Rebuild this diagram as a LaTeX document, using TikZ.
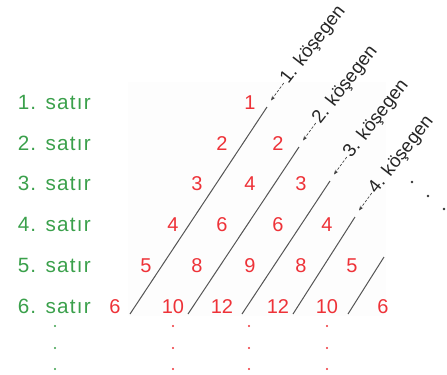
\documentclass[tikz,border=0pt]{standalone}
\usepackage{fontspec}
\setmainfont{Liberation Sans}
\newfontfamily\rowfont[LetterSpace=6]{Liberation Sans}
\usetikzlibrary{arrows.meta}
\definecolor{numred}{RGB}{238,50,56}
\definecolor{rowgreen}{RGB}{58,160,75}
\definecolor{linegray}{RGB}{85,85,85}
\tikzset{
  num/.style={text=numred, font=\fontsize{15}{18}\selectfont, anchor=base, inner sep=0pt},
  rowlab/.style={text=rowgreen, font=\rowfont\fontsize{15.5}{18}\selectfont, anchor=base west, inner sep=0pt},
  diag/.style={draw=linegray, line width=0.75pt},
  diaglab/.style={text=black!85, font=\fontsize{14}{16}\selectfont, rotate=52, anchor=west, inner sep=0pt},
  pointer/.style={draw=black!75, line width=0.5pt, dash pattern=on 2pt off 1.2pt, shorten <=1pt, -{Stealth[length=3.5pt,width=2.8pt]}},
  gdot/.style={circle, fill=rowgreen, inner sep=0pt, minimum size=1.8pt},
  rdot/.style={circle, fill=numred, inner sep=0pt, minimum size=1.8pt},
  kdot/.style={circle, fill=black!80, inner sep=0pt, minimum size=2pt}
}
\begin{document}
\begin{tikzpicture}[x=0.75pt,y=-0.75pt]
\useasboundingbox (0,0) rectangle (447,375);
\fill[black!0.8] (128,82) rectangle (386,316);
% row labels
\node[rowlab] (s1) at (17.5,109.3) {1. satır};
\node[rowlab] (s2) at (17.5,150.1) {2. satır};
\node[rowlab] (s3) at (17.5,190.9) {3. satır};
\node[rowlab] (s4) at (17.5,231.7) {4. satır};
\node[rowlab] (s5) at (17.5,272.5) {5. satır};
\node[rowlab] (s6) at (17.5,313.3) {6. satır};
% numbers
\node[num] (n10) at (250,109.3) {1};
\node[num] (n21) at (222,150.1) {2};
\node[num] (n22) at (278,150.1) {2};
\node[num] (n31) at (197,190.9) {3};
\node[num] (n32) at (250,190.9) {4};
\node[num] (n33) at (301,190.9) {3};
\node[num] (n41) at (173,231.7) {4};
\node[num] (n42) at (222,231.7) {6};
\node[num] (n43) at (278,231.7) {6};
\node[num] (n44) at (327,231.7) {4};
\node[num] (n51) at (146,272.5) {5};
\node[num] (n52) at (197,272.5) {8};
\node[num] (n53) at (250,272.5) {9};
\node[num] (n54) at (301,272.5) {8};
\node[num] (n55) at (352,272.5) {5};
\node[num] (n61) at (115,313.3) {6};
\node[num] (n62) at (173,313.3) {10};
\node[num] (n63) at (222,313.3) {12};
\node[num] (n64) at (278,313.3) {12};
\node[num] (n65) at (327,313.3) {10};
\node[num] (n66) at (383,313.3) {6};
% diagonals
\coordinate (b1) at (130,314); \coordinate (e1) at (267,107);
\coordinate (b2) at (188,314); \coordinate (e2) at (299,147);
\coordinate (b3) at (242,314); \coordinate (e3) at (330,181);
\coordinate (b4) at (293,314); \coordinate (e4) at (355,217);
\coordinate (b5) at (348,314); \coordinate (e5) at (384,257);
\draw[diag] (b1) -- (e1);
\draw[diag] (b2) -- (e2);
\draw[diag] (b3) -- (e3);
\draw[diag] (b4) -- (e4);
\draw[diag] (b5) -- (e5);
% diagonal labels
\coordinate (t1) at (271,100.5);
\coordinate (t2) at (303,140.5);
\coordinate (t3) at (334,174.5);
\coordinate (t4) at (359,210.5);
\node[diaglab] (k1) at (284.5,82) {1. köşegen};
\node[diaglab] (k2) at (316.5,122) {2. köşegen};
\node[diaglab] (k3) at (347.5,156) {3. köşegen};
\node[diaglab] (k4) at (372.5,192) {4. köşegen};
\draw[pointer] (k1.west) -- (t1);
\draw[pointer] (k2.west) -- (t2);
\draw[pointer] (k3.west) -- (t3);
\draw[pointer] (k4.west) -- (t4);
% continuation dots
\node[kdot] (m1) at (412,182) {};
\node[kdot] (m2) at (428,196) {};
\node[kdot] (m3) at (444,209) {};
\node[gdot] (g1) at (55,326) {};
\node[gdot] (g2) at (55,348) {};
\node[gdot] (g3) at (55,369) {};
\node[rdot] (p1) at (173,326) {};
\node[rdot] (p2) at (173,348) {};
\node[rdot] (p3) at (173,369) {};
\node[rdot] (q1) at (249,326) {};
\node[rdot] (q2) at (249,348) {};
\node[rdot] (q3) at (249,369) {};
\node[rdot] (u1) at (327,326) {};
\node[rdot] (u2) at (327,348) {};
\node[rdot] (u3) at (327,369) {};
\end{tikzpicture}
\end{document}
